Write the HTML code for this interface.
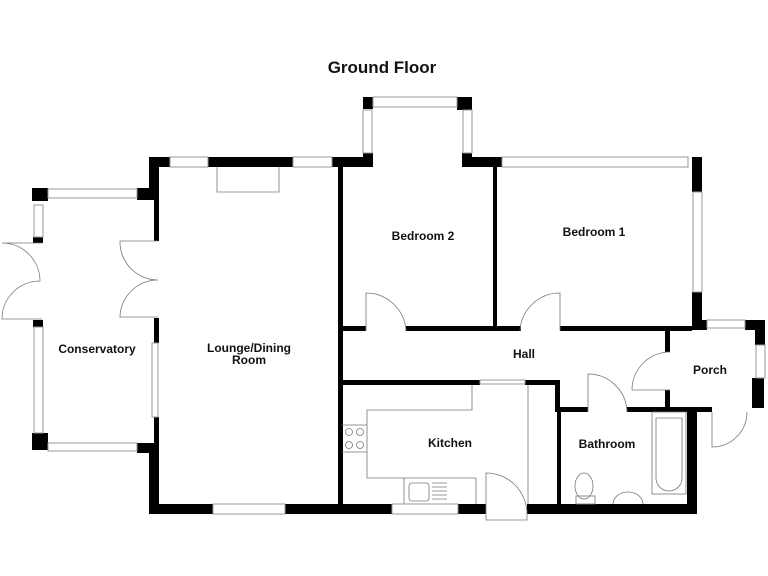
<!DOCTYPE html>
<html><head><style>
html,body{margin:0;padding:0;background:#fff;width:768px;height:576px;overflow:hidden}
svg{display:block}
text{font-family:"Liberation Sans",Arial,sans-serif;font-weight:bold;fill:#111}
</style></head><body>
<svg width="768" height="576" viewBox="0 0 768 576" xmlns="http://www.w3.org/2000/svg">
<text x="382" y="73" font-size="17" text-anchor="middle">Ground Floor</text>
<g fill="#000">
<!-- lounge walls -->
<rect x="149" y="157" width="21" height="10"/>
<rect x="208" y="157" width="85" height="10"/>
<rect x="332" y="157" width="31" height="10"/>
<rect x="149" y="157" width="10" height="41"/>
<rect x="154" y="198" width="5" height="43"/>
<rect x="154" y="318" width="5" height="25"/>
<rect x="154" y="417" width="5" height="30"/>
<rect x="149" y="443" width="10" height="71"/>
<rect x="149" y="504" width="64" height="10"/>
<rect x="285" y="504" width="107" height="10"/>
<rect x="458" y="504" width="28" height="10"/>
<rect x="527" y="504" width="170" height="10"/>
<rect x="338" y="167" width="5" height="337"/>
<!-- bedroom2 bay -->
<rect x="363" y="97" width="10" height="12"/>
<rect x="363" y="153" width="10" height="14"/>
<rect x="457" y="97" width="15" height="13"/>
<rect x="462" y="153" width="10" height="14"/>
<rect x="462" y="157" width="40" height="10"/>
<!-- bedroom1 right -->
<rect x="692" y="157" width="10" height="35"/>
<rect x="692" y="292" width="10" height="38"/>
<rect x="493" y="167" width="4" height="162"/>
<!-- hall top -->
<rect x="342" y="326" width="24" height="5"/>
<rect x="406" y="326" width="115" height="5"/>
<rect x="560" y="326" width="132" height="5"/>
<!-- porch -->
<rect x="692" y="320" width="15" height="10"/>
<rect x="745" y="320" width="18" height="10"/>
<rect x="755" y="320" width="10" height="25"/>
<rect x="752" y="378" width="12" height="30"/>
<rect x="665" y="330" width="5" height="22"/>
<rect x="665" y="390" width="5" height="18"/>
<!-- bathroom -->
<rect x="557" y="407" width="31" height="5"/>
<rect x="627" y="407" width="85" height="5"/>
<rect x="687" y="407" width="10" height="107"/>
<rect x="555" y="380" width="5" height="32"/>
<rect x="557" y="407" width="4" height="98"/>
<!-- kitchen top -->
<rect x="342" y="380" width="138" height="5"/>
<rect x="525" y="380" width="35" height="5"/>
<!-- conservatory -->
<rect x="32" y="188" width="16" height="13"/>
<rect x="137" y="188" width="17" height="12"/>
<rect x="33" y="237" width="10" height="6"/>
<rect x="33" y="320" width="10" height="7"/>
<rect x="32" y="433" width="16" height="17"/>
<rect x="137" y="443" width="17" height="10"/>
</g>
<g fill="#fff" stroke="#999" stroke-width="1">
<!-- windows -->
<rect x="170" y="157" width="38" height="10"/>
<rect x="293" y="157" width="39" height="10"/>
<rect x="213" y="504" width="72" height="10"/>
<rect x="392" y="504" width="66" height="10"/>
<rect x="373" y="97" width="84" height="10"/>
<rect x="363" y="110" width="9" height="43"/>
<rect x="463" y="110" width="9" height="43"/>
<rect x="502" y="157" width="186" height="10"/>
<rect x="693" y="192" width="9" height="100"/>
<rect x="707" y="320" width="38" height="8"/>
<rect x="756" y="345" width="9" height="33"/>
<rect x="48" y="189" width="89" height="9"/>
<rect x="34" y="205" width="9" height="32"/>
<rect x="34" y="327" width="9" height="106"/>
<rect x="48" y="443" width="89" height="8"/>
<rect x="152" y="343" width="6" height="74"/>
<rect x="480" y="380" width="45" height="4"/>
</g>
<g fill="none" stroke="#777" stroke-width="0.8">
<!-- fireplace -->
<path d="M217 167 V192 H279 V167"/>
<!-- doors -->
<path d="M366 331 V293 A40 40 0 0 1 406 331"/>
<path d="M560 331 V293 A40 40 0 0 0 520 331"/>
<path d="M588 412 V374 A39 39 0 0 1 627 412"/>
<path d="M670 390 H632 A38 38 0 0 1 670 352"/>
<path d="M712 412 V447 A35 35 0 0 0 747 412"/>
<path d="M486 514 V473 A41 41 0 0 1 527 514 M486 514 V520 H527 V514"/>
<path d="M158 241 H120 A38 38 0 0 0 158 280 A38 38 0 0 0 120 317 H158"/>
<path d="M2 243 A38 38 0 0 1 40 281 A38 38 0 0 0 2 319 H42 M2 243 H42"/>
<!-- kitchen -->
<path d="M472 385 V410 H367 V478 H476 V504 M404 478 V504 M342 425 H367 M342 452 H367 M528 385 V504"/>
<circle cx="349" cy="432" r="3.5"/><circle cx="360" cy="432" r="3.5"/>
<circle cx="349" cy="445" r="3.5"/><circle cx="360" cy="445" r="3.5"/>
<rect x="409" y="483" width="20" height="18" rx="3"/>
<path d="M432 483 H447 M432 487 H447 M432 491 H447 M432 495 H447 M432 499 H447"/>
<!-- bathroom -->
<rect x="652" y="412" width="34" height="82"/>
<path d="M656 418 V478 A13 13 0 0 0 682 478 V418 Z"/>
<ellipse cx="584" cy="486" rx="9" ry="13"/>
<rect x="576" y="496" width="19" height="8"/>
<path d="M613 504 A15 12 0 0 1 643 504"/>
</g>
<text x="97" y="353" font-size="12" text-anchor="middle">Conservatory</text>
<text x="249" y="352" font-size="12" text-anchor="middle">Lounge/Dining</text>
<text x="249" y="364" font-size="12" text-anchor="middle">Room</text>
<text x="423" y="240" font-size="12" text-anchor="middle">Bedroom 2</text>
<text x="594" y="236" font-size="12" text-anchor="middle">Bedroom 1</text>
<text x="524" y="358" font-size="12" text-anchor="middle">Hall</text>
<text x="710" y="374" font-size="12" text-anchor="middle">Porch</text>
<text x="450" y="447" font-size="12" text-anchor="middle">Kitchen</text>
<text x="607" y="448" font-size="12" text-anchor="middle">Bathroom</text>
</svg>
</body></html>
